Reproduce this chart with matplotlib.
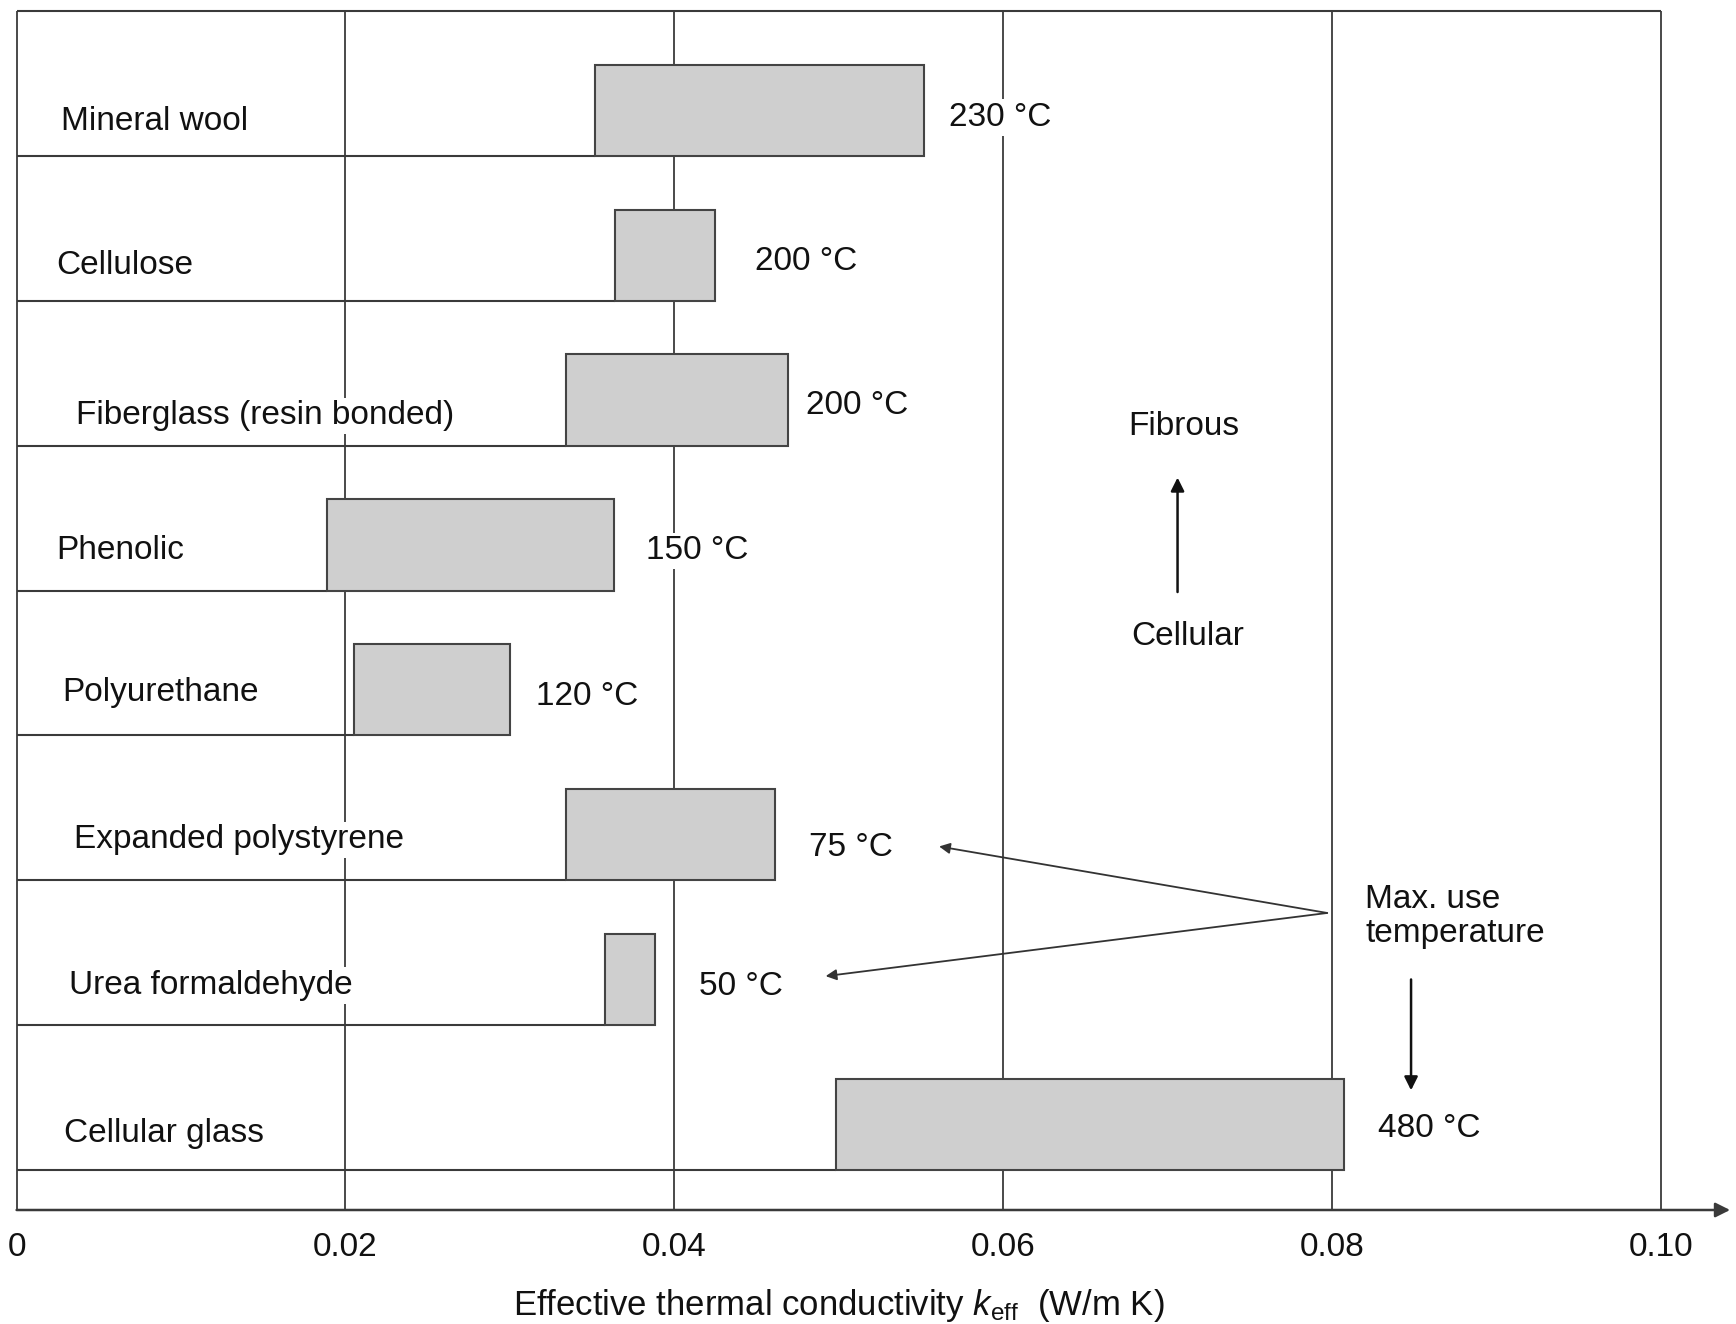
import matplotlib.pyplot as plt

plt.rcParams['font.family'] = ['Liberation Sans', 'DejaVu Sans']
plt.rcParams['mathtext.fontset'] = 'custom'
plt.rcParams['mathtext.rm'] = 'Liberation Sans'
plt.rcParams['mathtext.it'] = 'Liberation Sans:italic'

# data (top row first)
materials = ["Mineral wool", "Cellulose", "Fiberglass (resin bonded)", "Phenolic",
             "Polyurethane", "Expanded polystyrene", "Urea formaldehyde", "Cellular glass"]
k_low = [0.0352, 0.0364, 0.0334, 0.0189, 0.0205, 0.0334, 0.0358, 0.0498]
k_high = [0.0552, 0.0425, 0.0469, 0.0363, 0.0300, 0.0461, 0.0388, 0.0807]
max_temp = [230, 200, 200, 150, 120, 75, 50, 480]
x_ticks = [0, 0.02, 0.04, 0.06, 0.08, 0.10]
x_tick_labels = ["0", "0.02", "0.04", "0.06", "0.08", "0.10"]

# layout (label nudges in row units)
label_x = [0.0027, 0.0024, 0.0036, 0.0024, 0.0028, 0.0035, 0.0032, 0.0029]
label_dy = [-0.075, -0.07, -0.11, -0.04, -0.02, -0.035, -0.04, -0.06]
temp_gap = [0.0015, 0.0024, 0.0011, 0.0020, 0.0016, 0.0021, 0.0027, 0.0021]
temp_dy = [-0.05, -0.045, -0.04, -0.04, -0.045, -0.09, -0.05, -0.025]
bar_h = 0.63
y_bottom = -0.275
line_col = '#3a3a3a'
fs = 24

fig = plt.figure(figsize=(17.36, 13.24), dpi=100)
ax = fig.add_axes([16.6 / 1736, 114 / 1324, (1661 - 16.6) / 1736, (1313 - 114) / 1324])
ax.set_xlim(0, 0.10)
ax.set_ylim(y_bottom, 8)
for s in ax.spines.values():
    s.set_visible(False)
ax.set_yticks([])
ax.set_xticks(x_ticks)
ax.set_xticklabels(x_tick_labels, fontsize=fs, color='#111111')
ax.tick_params(axis='x', length=0, pad=16)

# frame and grid
ax.vlines(x_ticks, y_bottom, 8, color=line_col, lw=1.3, zorder=1, clip_on=False)
ax.hlines(8, 0, 0.10, color=line_col, lw=1.5, zorder=1, clip_on=False)
ax.annotate('', xy=(0.1042, y_bottom), xytext=(0, y_bottom),
            arrowprops=dict(arrowstyle='-|>', color=line_col, lw=1.8, mutation_scale=22,
                            shrinkA=0, shrinkB=0),
            annotation_clip=False, zorder=4)

n = len(materials)
for i, name in enumerate(materials):
    row = n - 1 - i
    ax.hlines(row, 0, k_low[i], color=line_col, lw=1.5, zorder=2)
    ax.barh(row, k_high[i] - k_low[i], left=k_low[i], height=bar_h, align='edge',
            color='#cfcfcf', edgecolor='#444444', lw=1.5, zorder=2)
    yc = row + bar_h / 2
    ax.text(label_x[i], yc + label_dy[i], name, fontsize=fs, va='center', ha='left',
            color='#111111', bbox=dict(facecolor='white', edgecolor='none', pad=2), zorder=3)
    ax.text(k_high[i] + temp_gap[i], yc + temp_dy[i], f"{max_temp[i]} °C", fontsize=fs,
            va='center', ha='left', color='#111111',
            bbox=dict(facecolor='white', edgecolor='none', pad=2), zorder=3)

# fibrous / cellular arrow
ax.annotate('', xy=(0.0706, 4.78), xytext=(0.0706, 3.99),
            arrowprops=dict(arrowstyle='-|>', color='#111111', lw=1.8, mutation_scale=20,
                            shrinkA=0, shrinkB=0))
ax.text(0.0710, 5.13, "Fibrous", fontsize=fs, ha='center', va='center', color='#111111')
ax.text(0.0712, 3.68, "Cellular", fontsize=fs, ha='center', va='center', color='#111111')

# max use temperature pointers
ax.text(0.0820, 1.75, "Max. use\ntemperature", fontsize=fs, ha='left', va='center',
        linespacing=1.1, color='#111111')
for tip in [(0.0561, 2.234), (0.0492, 1.339)]:
    ax.annotate('', xy=tip, xytext=(0.0797, 1.775),
                arrowprops=dict(arrowstyle='-|>', color='#333333', lw=1.3, mutation_scale=16,
                                shrinkA=0, shrinkB=0))
ax.annotate('', xy=(0.0848, 0.551), xytext=(0.0848, 1.316),
            arrowprops=dict(arrowstyle='-|>', color='#111111', lw=1.8, mutation_scale=20,
                            shrinkA=0, shrinkB=0))

fig.text(839 / 1736, 9 / 1324, r"Effective thermal conductivity $k_{\mathrm{eff}}$  (W/m K)",
         fontsize=25, ha='center', va='baseline', color='#111111')

fig.savefig('out.png', dpi=100)
